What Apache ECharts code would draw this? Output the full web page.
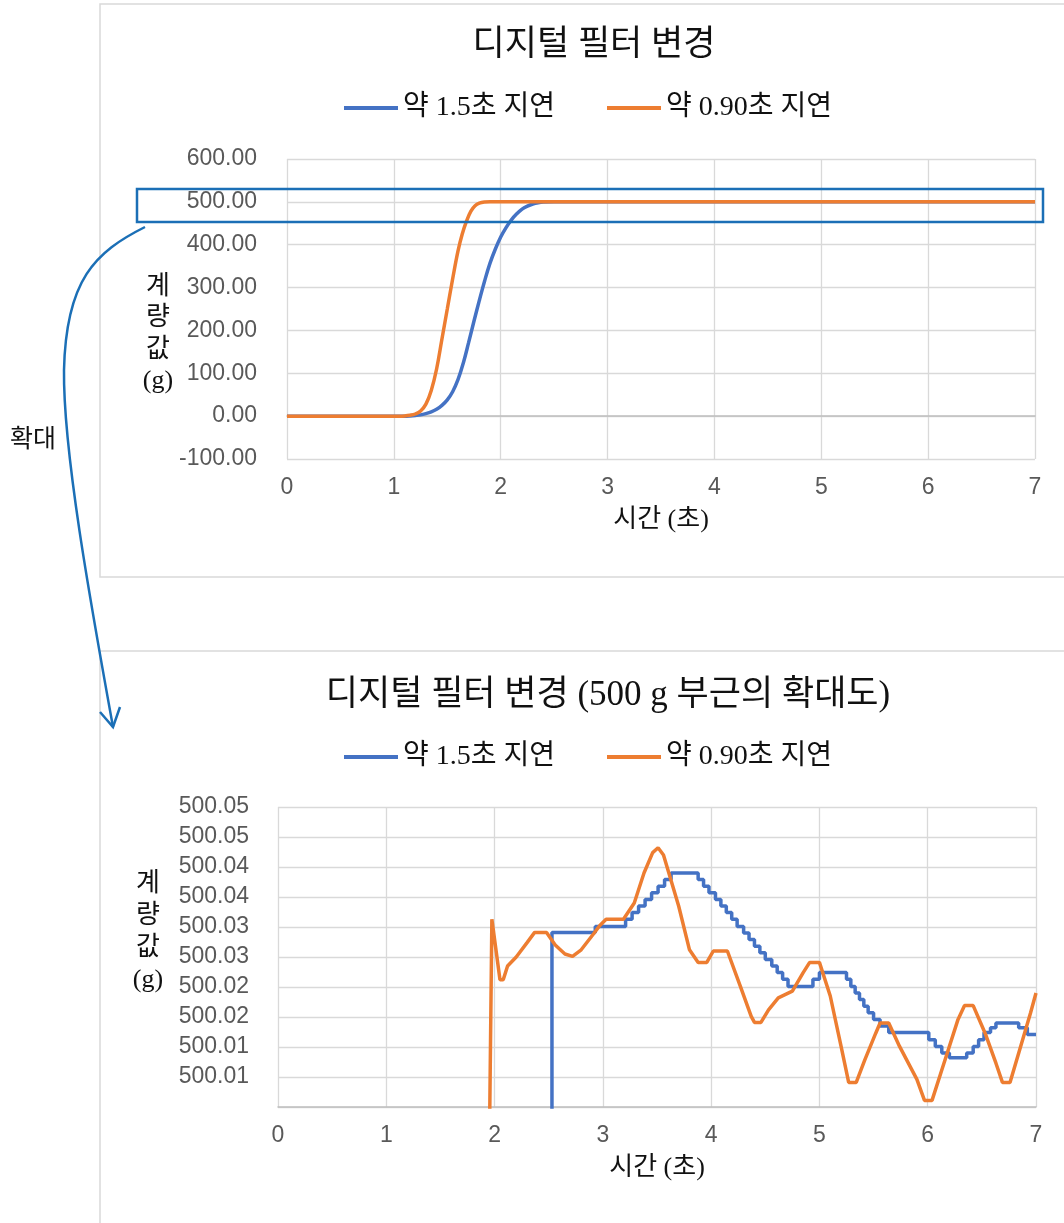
<!DOCTYPE html>
<html>
<head>
<meta charset="utf-8">
<script src="https://cdn.jsdelivr.net/npm/echarts@6/dist/echarts.min.js"></script>
<style>
  html, body { margin: 0; padding: 0; background: #ffffff; }
  #chart { width: 1064px; height: 1223px; }
</style>
</head>
<body>
<div id="chart"></div>
<script>
// ---------- DATA ----------
const seriesNames = ['약 1.5초 지연', '약 0.90초 지연'];
const topTitle = '디지털 필터 변경';
const bottomTitle = '디지털 필터 변경 (500 g 부근의 확대도)';
const xAxisName = '시간 (초)';
const yAxisName = '계\n량\n값\n(g)';
const zoomLabel = '확대';

const xTicks = [0, 1, 2, 3, 4, 5, 6, 7];
const topYTickLabels = ['-100.00', '0.00', '100.00', '200.00', '300.00', '400.00', '500.00', '600.00'];
const bottomYTickLabels = ['', '500.01', '500.01', '500.02', '500.02', '500.03', '500.03', '500.04', '500.04', '500.05', '500.05'];

// top chart: [time (s), value (g)]
const topBlue = [[0, 0], [1.10, 0], [1.15, 0.5], [1.20, 1.5], [1.25, 3], [1.30, 6], [1.35, 10], [1.40, 16], [1.45, 25],
  [1.50, 38], [1.55, 57], [1.60, 85], [1.65, 124], [1.70, 172], [1.75, 222], [1.80, 270], [1.85, 316], [1.90, 357],
  [1.95, 390], [2.00, 418], [2.05, 440], [2.10, 458], [2.15, 472], [2.20, 483], [2.25, 490], [2.30, 495],
  [2.35, 498], [2.40, 499.5], [2.50, 500], [7, 500]];
const topOrange = [[0, 0], [1.05, 0], [1.10, 0.5], [1.15, 2], [1.20, 5], [1.25, 12], [1.30, 28], [1.35, 60],
  [1.40, 110], [1.45, 180], [1.50, 250], [1.55, 320], [1.60, 385], [1.64, 425], [1.68, 455], [1.72, 478],
  [1.76, 491], [1.80, 497], [1.85, 499.5], [1.90, 500], [7, 500]];

// bottom (zoomed) chart: [time (s), value (g)]
const bottomBlue = [[2.50, 499.99], [2.53, 500.0291], [2.93, 500.0301], [3.21, 500.0313], [3.27, 500.0324],
  [3.33, 500.0335], [3.39, 500.0346], [3.45, 500.0357], [3.51, 500.0368], [3.57, 500.0379], [3.63, 500.0390],
  [3.88, 500.0379], [3.93, 500.0368], [3.98, 500.0357], [4.04, 500.0346], [4.09, 500.0335], [4.14, 500.0324],
  [4.19, 500.0313], [4.24, 500.0301], [4.30, 500.0290], [4.35, 500.0279], [4.40, 500.0268], [4.45, 500.0257],
  [4.50, 500.0246], [4.56, 500.0235], [4.61, 500.0224], [4.66, 500.0213], [4.71, 500.0201], [4.94, 500.0213],
  [5.00, 500.0224], [5.25, 500.0213], [5.29, 500.0201], [5.33, 500.0190], [5.37, 500.0179], [5.41, 500.0168],
  [5.45, 500.0157], [5.50, 500.0146], [5.56, 500.0135], [5.64, 500.0124], [6.01, 500.0112], [6.07, 500.0101],
  [6.13, 500.0090], [6.20, 500.0082], [6.36, 500.0090], [6.42, 500.0101], [6.47, 500.0112], [6.52, 500.0124],
  [6.58, 500.0132], [6.63, 500.0140], [6.84, 500.0132], [6.92, 500.0121], [7.00, 500.0121]];
const bottomOrange = [[1.95, 499.99], [1.975, 500.0313], [2.05, 500.0212], [2.08, 500.0212], [2.12, 500.0235],
  [2.20, 500.0250], [2.30, 500.0274], [2.37, 500.0291], [2.48, 500.0291], [2.56, 500.0270], [2.65, 500.0255],
  [2.72, 500.0251], [2.80, 500.0262], [2.92, 500.0290], [2.97, 500.0302], [3.03, 500.0313], [3.19, 500.0313],
  [3.29, 500.0340], [3.38, 500.0390], [3.46, 500.0424], [3.51, 500.0432], [3.56, 500.0420], [3.70, 500.0335],
  [3.80, 500.0262], [3.88, 500.0241], [3.96, 500.0241], [4.02, 500.0260], [4.15, 500.0260], [4.27, 500.0201],
  [4.37, 500.0151], [4.40, 500.0141], [4.46, 500.0141], [4.53, 500.0162], [4.62, 500.0182], [4.75, 500.0193],
  [4.85, 500.0224], [4.91, 500.0241], [5.00, 500.0241], [5.10, 500.0185], [5.20, 500.0101], [5.27, 500.0041],
  [5.34, 500.0041], [5.42, 500.0079], [5.52, 500.0123], [5.56, 500.0140], [5.64, 500.0140], [5.74, 500.0101],
  [5.90, 500.0046], [5.97, 500.0011], [6.04, 500.0011], [6.15, 500.0073], [6.28, 500.0146], [6.34, 500.0169],
  [6.42, 500.0169], [6.53, 500.0123], [6.63, 500.0073], [6.69, 500.0041], [6.76, 500.0041], [6.85, 500.0096],
  [6.95, 500.0157], [7.00, 500.0190]];

// ---------- STYLE ----------
const BLUE = '#4472C4';
const ORANGE = '#ED7D31';
const ANNO = '#1B6FB6';
const GRID = '#d9d9d9';
const TICK = '#595959';
const KFONT = "'Liberation Serif', 'Noto Sans CJK KR', serif";
const NFONT = "'Liberation Sans', Arial, sans-serif";
const LW = 3.5;

const chart = echarts.init(document.getElementById('chart'), null, { renderer: 'canvas' });

function xAxisCfg(gridIndex) {
  return {
    type: 'value', gridIndex, min: xTicks[0], max: xTicks[xTicks.length - 1], interval: 1,
    name: xAxisName, nameLocation: 'middle', nameGap: 48,
    nameTextStyle: { fontFamily: KFONT, fontSize: 26, color: '#111' },
    axisLine: { show: true, lineStyle: { color: '#bfbfbf', width: 1.5 } },
    axisTick: { show: false },
    axisLabel: { margin: 17, fontFamily: NFONT, fontSize: 23, color: TICK },
    splitLine: { show: true, lineStyle: { color: GRID, width: 1.3 } }
  };
}

const option = {
  animation: false,
  backgroundColor: '#ffffff',
  grid: [
    { left: 287, top: 159, width: 748, height: 300, outerBoundsMode: 'none', containLabel: false },
    { left: 278, top: 807, width: 758, height: 300, outerBoundsMode: 'none', containLabel: false }
  ],
  xAxis: [xAxisCfg(0), xAxisCfg(1)],
  yAxis: [
    {
      type: 'value', gridIndex: 0, min: -100, max: 600, interval: 100,
      axisLine: { show: false }, axisTick: { show: false },
      axisLabel: {
        margin: 30, fontFamily: NFONT, fontSize: 23, color: TICK,
        formatter: v => topYTickLabels[Math.round((v + 100) / 100)] || ''
      },
      splitLine: { show: true, lineStyle: { color: GRID, width: 1.3 } }
    },
    {
      type: 'value', gridIndex: 1, min: 500, max: 500.05, interval: 0.005,
      axisLine: { show: false }, axisTick: { show: false },
      axisLabel: {
        margin: 29, fontFamily: NFONT, fontSize: 23, color: TICK,
        formatter: v => bottomYTickLabels[Math.round((v - 500) / 0.005)] || ''
      },
      splitLine: { show: true, lineStyle: { color: GRID, width: 1.3 } }
    }
  ],
  legend: [
    { data: [seriesNames[0]], left: 344, top: 93 },
    { data: [seriesNames[1]], left: 607, top: 93 },
    { data: [seriesNames[0]], left: 344, top: 742 },
    { data: [seriesNames[1]], left: 607, top: 742 }
  ].map(l => Object.assign(l, {
    icon: 'rect', itemWidth: 54, itemHeight: 4, itemGap: 30, padding: 0, selectedMode: false,
    textStyle: { fontFamily: KFONT, fontSize: 28, color: '#111', lineHeight: 30 }
  })),
  series: [
    { name: seriesNames[0], type: 'line', xAxisIndex: 0, yAxisIndex: 0, data: topBlue, showSymbol: false,
      smooth: 0.4, lineStyle: { color: BLUE, width: LW }, itemStyle: { color: BLUE } },
    { name: seriesNames[1], type: 'line', xAxisIndex: 0, yAxisIndex: 0, data: topOrange, showSymbol: false,
      smooth: 0.4, lineStyle: { color: ORANGE, width: LW }, itemStyle: { color: ORANGE } },
    { name: seriesNames[0], type: 'line', xAxisIndex: 1, yAxisIndex: 1, data: bottomBlue, showSymbol: false,
      step: 'end', clip: true, lineStyle: { color: BLUE, width: LW }, itemStyle: { color: BLUE } },
    { name: seriesNames[1], type: 'line', xAxisIndex: 1, yAxisIndex: 1, data: bottomOrange, showSymbol: false,
      clip: true, lineStyle: { color: ORANGE, width: LW }, itemStyle: { color: ORANGE } }
  ],
  graphic: [
    // chart frames
    { type: 'rect', z: -10, shape: { x: 100, y: 4, width: 1010, height: 573 },
      style: { fill: null, stroke: GRID, lineWidth: 1.5 } },
    { type: 'rect', z: -10, shape: { x: 100, y: 651, width: 1010, height: 620 },
      style: { fill: null, stroke: GRID, lineWidth: 1.5 } },
    // titles
    { type: 'text', x: 594, y: 46, style: { text: topTitle, fontFamily: KFONT, fontSize: 35, fill: '#111',
      textAlign: 'center', textVerticalAlign: 'middle' } },
    { type: 'text', x: 608, y: 696, style: { text: bottomTitle, fontFamily: KFONT, fontSize: 35, fill: '#111',
      textAlign: 'center', textVerticalAlign: 'middle' } },
    // y axis names
    { type: 'text', x: 158, y: 334, style: { text: yAxisName, fontFamily: KFONT, fontSize: 26, lineHeight: 31.5,
      fill: '#111', textAlign: 'center', textVerticalAlign: 'middle' } },
    { type: 'text', x: 148, y: 932, style: { text: yAxisName, fontFamily: KFONT, fontSize: 26, lineHeight: 32,
      fill: '#111', textAlign: 'center', textVerticalAlign: 'middle' } },
    // zoom annotation
    { type: 'rect', z: 100, shape: { x: 137, y: 189, width: 906, height: 33 },
      style: { fill: null, stroke: ANNO, lineWidth: 2.5 } },
    { type: 'bezierCurve', z: 100,
      shape: { x1: 145, y1: 227, cpx1: 95, cpy1: 252, cpx2: 66, cpy2: 280, x2: 64, y2: 370 },
      style: { fill: null, stroke: ANNO, lineWidth: 2.5 } },
    { type: 'bezierCurve', z: 100,
      shape: { x1: 64, y1: 370, cpx1: 63, cpy1: 450, cpx2: 90, cpy2: 600, x2: 113, y2: 727 },
      style: { fill: null, stroke: ANNO, lineWidth: 2.5 } },
    { type: 'polyline', z: 100, shape: { points: [[100, 712], [113, 727], [120, 707]] },
      style: { fill: null, stroke: ANNO, lineWidth: 2.5 } },
    { type: 'text', x: 33, y: 440, style: { text: zoomLabel, fontFamily: KFONT, fontSize: 25, fill: '#111',
      textAlign: 'center', textVerticalAlign: 'middle' } }
  ]
};

chart.setOption(option);
</script>
</body>
</html>
